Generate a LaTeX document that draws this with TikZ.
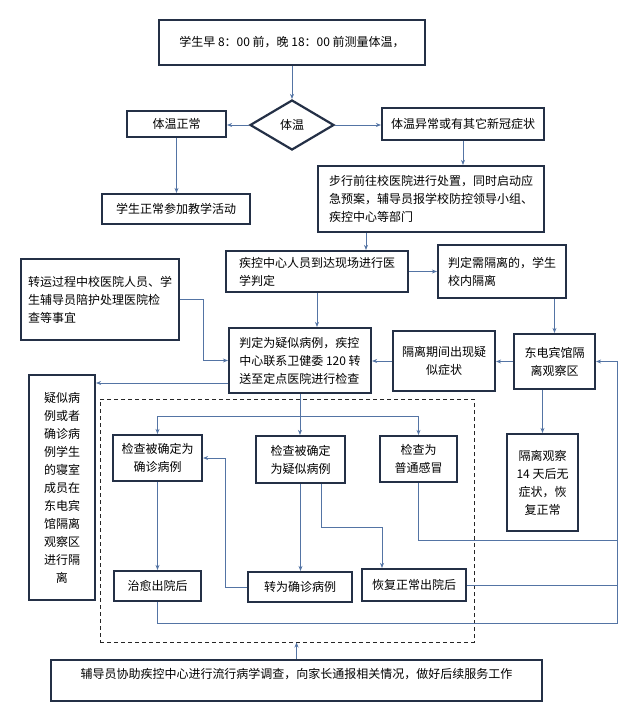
\documentclass[tikz,border=0pt]{standalone}
\usepackage{fontspec}
\setmainfont{Noto Sans CJK SC}
\usetikzlibrary{shapes.geometric, arrows.meta}
\definecolor{boxline}{RGB}{36,48,70}
\definecolor{linkline}{RGB}{84,116,164}

\begin{document}
\begin{tikzpicture}[x=1pt, y=-1pt]
    % Define styles
    \tikzset{
        box/.style={
            draw=boxline,
            line width=2.2pt,
            fill=white,
            inner sep=2pt,
            font=\fontsize{12}{18}\selectfont
        },
        link/.style={
            draw=linkline,
            line width=0.9pt
        },
        arrow/.style={
            link,
            -{Stealth[length=5pt, width=4pt]}
        },
        zonebox/.style={
            draw=black!85,
            line width=1pt,
            dash pattern=on 4pt off 3pt
        }
    }

    % Page
    \fill[white] (0,0) rectangle (641,721);
    \useasboundingbox (0,0) rectangle (641,721);

    % Dashed hospital zone
    \node[zonebox, minimum width=374pt, minimum height=243pt] (zone) at (287,520.5) {};

    % Screening
    \node[box, minimum width=266pt, minimum height=45pt] (measure) at (292,42.5) {学生早 8：00 前，晚 18：00 前测量体温，};
    \node[box, shape=diamond, aspect=1.65, inner sep=0pt, minimum width=84pt, minimum height=50pt] (temp) at (292,125) {体温};
    \node[box, minimum width=99pt, minimum height=26pt] (normal) at (176.5,124) {体温正常};
    \node[box, minimum width=162pt, minimum height=32pt] (abnormal) at (463,124) {体温异常或有其它新冠症状};
    \node[box, minimum width=148pt, minimum height=30pt] (attend) at (176,209) {学生正常参加教学活动};
    \node[box, align=left, minimum width=226pt, minimum height=66pt] (walk) at (431,199) {步行前往校医院进行处置，同时启动应\\急预案，辅导员报学校防控领导小组、\\疾控中心等部门};

    % Medical judgement
    \node[box, align=left, minimum width=182pt, minimum height=41pt] (arrive) at (317,271.5) {疾控中心人员到达现场进行医\\学判定};
    \node[box, align=left, minimum width=128pt, minimum height=53pt] (isolate) at (502,271.5) {判定需隔离的，学生\\校内隔离};
    \node[box, align=left, minimum width=158pt, minimum height=81pt] (transport) at (100,299.5) {转运过程中校医院人员、学\\生辅导员陪护处理医院检\\查等事宜};
    \node[box, align=left, minimum width=142pt, minimum height=65pt] (suspect) at (300,360.5) {判定为疑似病例，疾控\\中心联系卫健委 120 转\\送至定点医院进行检查};
    \node[box, align=center, minimum width=102pt, minimum height=60pt] (symptom) at (444,361) {隔离期间出现疑\\似症状};
    \node[box, align=center, minimum width=81pt, minimum height=55pt] (hotel) at (554.5,361.5) {东电宾馆隔\\离观察区};
    \node[box, align=center, minimum width=66pt, minimum height=225pt] (dorm) at (62,487.5) {疑似病\\例或者\\确诊病\\例学生\\的寝室\\成员在\\东电宾\\馆隔离\\观察区\\进行隔\\离};

    % Examination results
    \node[box, align=center, minimum width=89pt, minimum height=46pt] (confirmed) at (157.5,458) {检查被确定为\\确诊病例};
    \node[box, align=center, minimum width=89pt, minimum height=47pt] (suspected) at (300.5,459.5) {检查被确定\\为疑似病例};
    \node[box, align=center, minimum width=77pt, minimum height=46pt] (cold) at (418.5,459) {检查为\\普通感冒};
    \node[box, align=center, minimum width=71pt, minimum height=97pt] (observe) at (542.5,482.5) {隔离观察\\14 天后无\\症状，恢\\复正常};
    \node[box, minimum width=87pt, minimum height=30pt] (cured) at (157.5,586) {治愈出院后};
    \node[box, minimum width=104pt, minimum height=30pt] (converted) at (300,587) {转为确诊病例};
    \node[box, minimum width=104pt, minimum height=32pt] (recovered) at (414,585) {恢复正常出院后};

    % Follow-up
    \node[box, minimum width=491pt, minimum height=41pt, text height=9pt, text depth=14pt] (followup) at (296.5,680.5) {辅导员协助疾控中心进行流行病学调查，向家长通报相关情况，做好后续服务工作};

    % Screening links
    \draw[arrow] (measure) -- (temp);
    \draw[arrow] (temp.west) -- (temp.west -| normal.east);
    \draw[arrow] (temp.east) -- (temp.east -| abnormal.west);
    \draw[arrow] (normal.south) -- (normal.south |- attend.north);
    \draw[arrow] (abnormal.south) -- (abnormal.south |- walk.north);
    \draw[arrow] ([xshift=-65pt]walk.south) -- ([xshift=-65pt]walk.south |- arrive.north);

    % Judgement links
    \draw[arrow] (arrive.east) -- (arrive.east -| isolate.west);
    \draw[arrow] (hotel.north |- isolate.south) -- (hotel.north);
    \draw[arrow] (arrive.south) -- (arrive.south |- suspect.north);
    \draw[arrow] (transport.east) -- ++(23,0) |- (suspect.west);
    \draw[arrow] (hotel.west) -- (hotel.west -| symptom.east);
    \draw[arrow] (symptom.west) -- (symptom.west -| suspect.east);
    \draw[arrow] ([yshift=-22.5pt]suspect.west) -- ([yshift=-22.5pt]suspect.west -| dorm.east);
    \draw[arrow] (hotel.south -| observe.north) ++(0,0) -- (observe.north);

    % Examination links
    \coordinate (bus) at (300,416);
    \draw[arrow] (suspect.south) -- (suspect.south |- suspected.north);
    \draw[arrow] (bus) -| (confirmed.north);
    \draw[arrow] (bus) -| (cold.north);
    \draw[arrow] (confirmed) -- (cured);
    \draw[arrow] (suspected.south) -- (suspected.south |- converted.north);
    \draw[arrow] (converted.west) -- ++(-21,0) |- (confirmed.east);
    \draw[arrow] ([xshift=20.5pt]suspected.south) -- ++(0,43) -| ([xshift=-32pt]recovered.north);

    % Return to the hotel
    \coordinate (ret) at (617,623);
    \coordinate (retcold) at (617,540);
    \draw[arrow] (cured.south) |- (ret) |- (hotel.east);
    \draw[link] (cold.south) |- (retcold);
    \draw[link] (recovered.east) -- (recovered.east -| ret);

    % Follow-up link
    \draw[arrow] (followup.north) -- (followup.north |- zone.south);

\end{tikzpicture}
\end{document}
